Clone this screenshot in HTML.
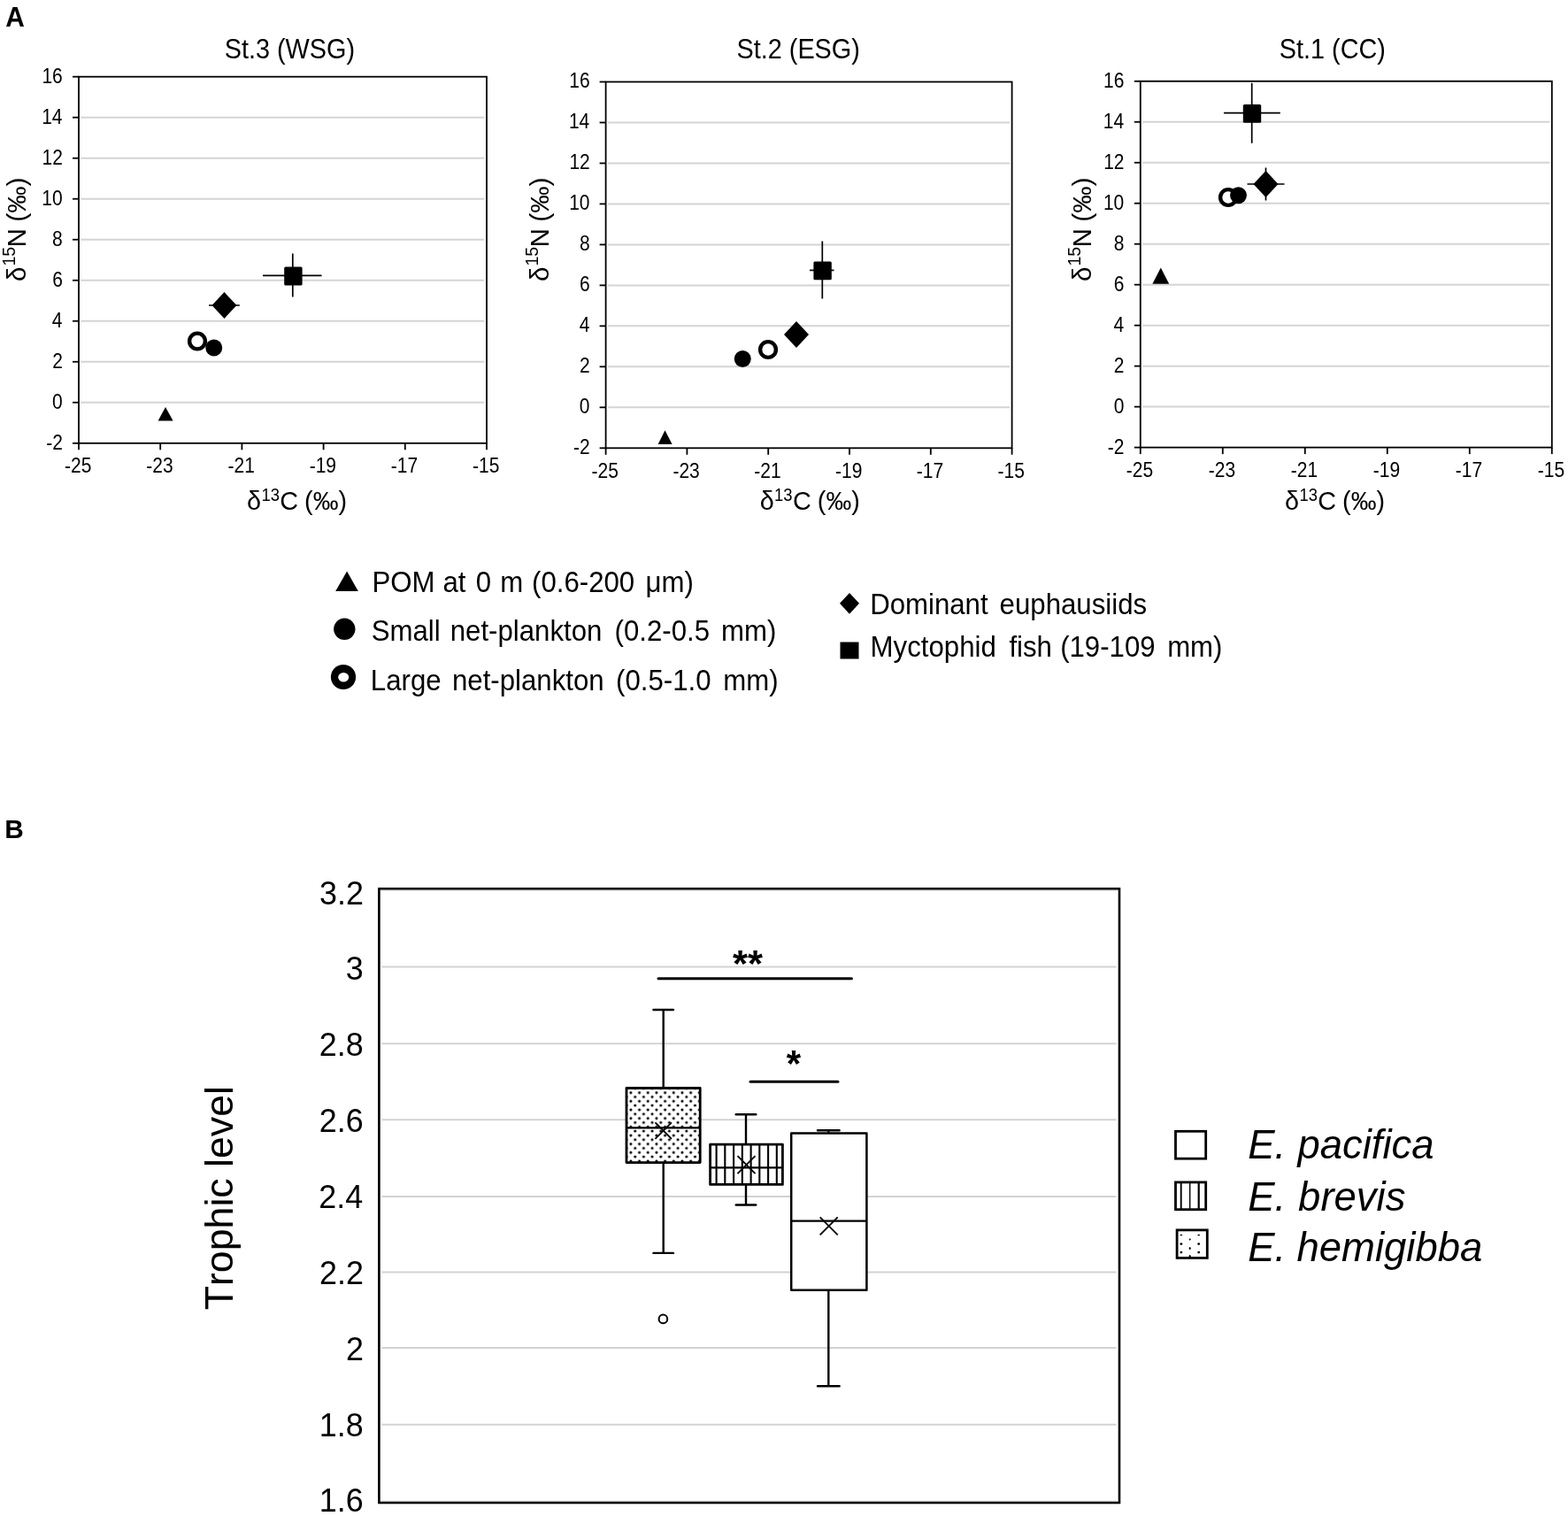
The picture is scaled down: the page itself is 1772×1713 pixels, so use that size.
<!DOCTYPE html>
<html lang="en"><head><meta charset="utf-8"><title>Figure</title>
<style>html,body{margin:0;padding:0;background:#fff}svg{display:block}text{font-family:"Liberation Sans",sans-serif;fill:#000;font-kerning:none}</style></head><body>
<svg width="1772" height="1713" viewBox="0 0 1772 1713">
<rect width="1772" height="1713" fill="#fff"/>
<defs><pattern id="dots" patternUnits="userSpaceOnUse" x="708.05" y="1229.75" width="9.68" height="9.66"><circle cx="4.84" cy="4.85" r="1.55" fill="#000"/><circle cx="0" cy="0" r="1.55"/><circle cx="9.68" cy="0" r="1.55"/><circle cx="0" cy="9.66" r="1.55"/><circle cx="9.68" cy="9.66" r="1.55"/></pattern></defs>
<text transform="translate(6.36,29.60) scale(0.96,1)" font-size="31.1" font-weight="bold">A</text>
<text transform="translate(5.21,946.60) scale(0.99,1)" font-size="30.1" font-weight="bold">B</text>
<line x1="91.50" y1="132.71" x2="547.50" y2="132.71" stroke="#d4d4d4" stroke-width="2.0"/>
<line x1="91.50" y1="178.72" x2="547.50" y2="178.72" stroke="#d4d4d4" stroke-width="2.0"/>
<line x1="91.50" y1="224.73" x2="547.50" y2="224.73" stroke="#d4d4d4" stroke-width="2.0"/>
<line x1="91.50" y1="270.74" x2="547.50" y2="270.74" stroke="#d4d4d4" stroke-width="2.0"/>
<line x1="91.50" y1="316.76" x2="547.50" y2="316.76" stroke="#d4d4d4" stroke-width="2.0"/>
<line x1="91.50" y1="362.77" x2="547.50" y2="362.77" stroke="#d4d4d4" stroke-width="2.0"/>
<line x1="91.50" y1="408.78" x2="547.50" y2="408.78" stroke="#d4d4d4" stroke-width="2.0"/>
<line x1="91.50" y1="454.79" x2="547.50" y2="454.79" stroke="#d4d4d4" stroke-width="2.0"/>
<rect x="89.00" y="86.70" width="461.00" height="414.10" fill="none" stroke="#000" stroke-width="1.8"/>
<line x1="82.00" y1="86.70" x2="89.00" y2="86.70" stroke="#000" stroke-width="1.8"/>
<text transform="translate(47.44,93.60) scale(0.865,1)" font-size="24.3">16</text>
<line x1="82.00" y1="132.71" x2="89.00" y2="132.71" stroke="#000" stroke-width="1.8"/>
<text transform="translate(47.14,139.61) scale(0.865,1)" font-size="24.3">14</text>
<line x1="82.00" y1="178.72" x2="89.00" y2="178.72" stroke="#000" stroke-width="1.8"/>
<text transform="translate(47.58,185.62) scale(0.865,1)" font-size="24.3">12</text>
<line x1="82.00" y1="224.73" x2="89.00" y2="224.73" stroke="#000" stroke-width="1.8"/>
<text transform="translate(47.34,231.63) scale(0.865,1)" font-size="24.3">10</text>
<line x1="82.00" y1="270.74" x2="89.00" y2="270.74" stroke="#000" stroke-width="1.8"/>
<text transform="translate(59.12,277.64) scale(0.865,1)" font-size="24.3">8</text>
<line x1="82.00" y1="316.76" x2="89.00" y2="316.76" stroke="#000" stroke-width="1.8"/>
<text transform="translate(59.13,323.66) scale(0.865,1)" font-size="24.3">6</text>
<line x1="82.00" y1="362.77" x2="89.00" y2="362.77" stroke="#000" stroke-width="1.8"/>
<text transform="translate(58.83,369.67) scale(0.865,1)" font-size="24.3">4</text>
<line x1="82.00" y1="408.78" x2="89.00" y2="408.78" stroke="#000" stroke-width="1.8"/>
<text transform="translate(59.27,415.68) scale(0.865,1)" font-size="24.3">2</text>
<line x1="82.00" y1="454.79" x2="89.00" y2="454.79" stroke="#000" stroke-width="1.8"/>
<text transform="translate(59.03,461.69) scale(0.865,1)" font-size="24.3">0</text>
<line x1="82.00" y1="500.80" x2="89.00" y2="500.80" stroke="#000" stroke-width="1.8"/>
<text transform="translate(52.27,507.70) scale(0.865,1)" font-size="24.3">-2</text>
<line x1="89.00" y1="500.80" x2="89.00" y2="508.30" stroke="#000" stroke-width="1.8"/>
<text transform="translate(72.98,534.40) scale(0.865,1)" font-size="24.3">-25</text>
<line x1="181.20" y1="500.80" x2="181.20" y2="508.30" stroke="#000" stroke-width="1.8"/>
<text transform="translate(165.20,534.40) scale(0.865,1)" font-size="24.3">-23</text>
<line x1="273.40" y1="500.80" x2="273.40" y2="508.30" stroke="#000" stroke-width="1.8"/>
<text transform="translate(257.46,534.40) scale(0.865,1)" font-size="24.3">-21</text>
<line x1="365.60" y1="500.80" x2="365.60" y2="508.30" stroke="#000" stroke-width="1.8"/>
<text transform="translate(349.64,534.40) scale(0.865,1)" font-size="24.3">-19</text>
<line x1="457.80" y1="500.80" x2="457.80" y2="508.30" stroke="#000" stroke-width="1.8"/>
<text transform="translate(441.87,534.40) scale(0.865,1)" font-size="24.3">-17</text>
<line x1="550.00" y1="500.80" x2="550.00" y2="508.30" stroke="#000" stroke-width="1.8"/>
<text transform="translate(533.98,534.40) scale(0.865,1)" font-size="24.3">-15</text>
<text transform="translate(253.78,65.70) scale(0.945,1)" font-size="30.5">St.3 (WSG)</text>
<text transform="translate(279.09,575.90) scale(0.96,1)" font-size="30.0">δ</text>
<text transform="translate(295.40,566.40) scale(0.945,1)" font-size="19.5">13</text>
<text transform="translate(316.24,575.90) scale(0.96,1)" font-size="30.0">C</text>
<text transform="translate(344.10,575.90) scale(0.96,1)" font-size="30.0">(‰)</text>
<text transform="translate(29.10,318.05) rotate(-90) scale(1.0,1)" font-size="29.7">δ</text>
<text transform="translate(16.60,300.49) rotate(-90) scale(1.0,1)" font-size="19.5">15</text>
<text transform="translate(29.10,279.44) rotate(-90) scale(1.0,1)" font-size="29.7">N</text>
<text transform="translate(29.10,250.79) rotate(-90) scale(1.02,1)" font-size="29.7">(‰)</text>
<line x1="297" y1="311.3" x2="363.5" y2="311.3" stroke="#000" stroke-width="1.7"/>
<line x1="330.8" y1="286.5" x2="330.8" y2="335.5" stroke="#000" stroke-width="1.7"/>
<rect x="321.20" y="301.60" width="20.4" height="20.8" rx="1.5" fill="#000"/>
<line x1="236" y1="345" x2="270.8" y2="345" stroke="#000" stroke-width="1.7"/>
<polygon points="239.5,345 253.5,330.1 267.5,345 253.5,359.9" fill="#000"/>
<circle cx="241.75" cy="393" r="9.45" fill="#000"/>
<circle cx="223" cy="385.5" r="8.899999999999999" fill="#fff" stroke="#000" stroke-width="4.4"/>
<polygon points="187,460 195.6,475.6 178.6,475.6" fill="#000"/>
<line x1="687.10" y1="138.48" x2="1141.10" y2="138.48" stroke="#d4d4d4" stroke-width="2.0"/>
<line x1="687.10" y1="184.46" x2="1141.10" y2="184.46" stroke="#d4d4d4" stroke-width="2.0"/>
<line x1="687.10" y1="230.43" x2="1141.10" y2="230.43" stroke="#d4d4d4" stroke-width="2.0"/>
<line x1="687.10" y1="276.41" x2="1141.10" y2="276.41" stroke="#d4d4d4" stroke-width="2.0"/>
<line x1="687.10" y1="322.39" x2="1141.10" y2="322.39" stroke="#d4d4d4" stroke-width="2.0"/>
<line x1="687.10" y1="368.37" x2="1141.10" y2="368.37" stroke="#d4d4d4" stroke-width="2.0"/>
<line x1="687.10" y1="414.34" x2="1141.10" y2="414.34" stroke="#d4d4d4" stroke-width="2.0"/>
<line x1="687.10" y1="460.32" x2="1141.10" y2="460.32" stroke="#d4d4d4" stroke-width="2.0"/>
<rect x="684.60" y="92.50" width="459.00" height="413.80" fill="none" stroke="#000" stroke-width="1.8"/>
<line x1="677.60" y1="92.50" x2="684.60" y2="92.50" stroke="#000" stroke-width="1.8"/>
<text transform="translate(643.24,99.40) scale(0.865,1)" font-size="24.3">16</text>
<line x1="677.60" y1="138.48" x2="684.60" y2="138.48" stroke="#000" stroke-width="1.8"/>
<text transform="translate(642.94,145.38) scale(0.865,1)" font-size="24.3">14</text>
<line x1="677.60" y1="184.46" x2="684.60" y2="184.46" stroke="#000" stroke-width="1.8"/>
<text transform="translate(643.38,191.36) scale(0.865,1)" font-size="24.3">12</text>
<line x1="677.60" y1="230.43" x2="684.60" y2="230.43" stroke="#000" stroke-width="1.8"/>
<text transform="translate(643.14,237.33) scale(0.865,1)" font-size="24.3">10</text>
<line x1="677.60" y1="276.41" x2="684.60" y2="276.41" stroke="#000" stroke-width="1.8"/>
<text transform="translate(654.92,283.31) scale(0.865,1)" font-size="24.3">8</text>
<line x1="677.60" y1="322.39" x2="684.60" y2="322.39" stroke="#000" stroke-width="1.8"/>
<text transform="translate(654.93,329.29) scale(0.865,1)" font-size="24.3">6</text>
<line x1="677.60" y1="368.37" x2="684.60" y2="368.37" stroke="#000" stroke-width="1.8"/>
<text transform="translate(654.63,375.27) scale(0.865,1)" font-size="24.3">4</text>
<line x1="677.60" y1="414.34" x2="684.60" y2="414.34" stroke="#000" stroke-width="1.8"/>
<text transform="translate(655.07,421.24) scale(0.865,1)" font-size="24.3">2</text>
<line x1="677.60" y1="460.32" x2="684.60" y2="460.32" stroke="#000" stroke-width="1.8"/>
<text transform="translate(654.83,467.22) scale(0.865,1)" font-size="24.3">0</text>
<line x1="677.60" y1="506.30" x2="684.60" y2="506.30" stroke="#000" stroke-width="1.8"/>
<text transform="translate(648.07,513.20) scale(0.865,1)" font-size="24.3">-2</text>
<line x1="684.60" y1="506.30" x2="684.60" y2="513.80" stroke="#000" stroke-width="1.8"/>
<text transform="translate(668.58,539.90) scale(0.865,1)" font-size="24.3">-25</text>
<line x1="776.40" y1="506.30" x2="776.40" y2="513.80" stroke="#000" stroke-width="1.8"/>
<text transform="translate(760.40,539.90) scale(0.865,1)" font-size="24.3">-23</text>
<line x1="868.20" y1="506.30" x2="868.20" y2="513.80" stroke="#000" stroke-width="1.8"/>
<text transform="translate(852.26,539.90) scale(0.865,1)" font-size="24.3">-21</text>
<line x1="960.00" y1="506.30" x2="960.00" y2="513.80" stroke="#000" stroke-width="1.8"/>
<text transform="translate(944.04,539.90) scale(0.865,1)" font-size="24.3">-19</text>
<line x1="1051.80" y1="506.30" x2="1051.80" y2="513.80" stroke="#000" stroke-width="1.8"/>
<text transform="translate(1035.87,539.90) scale(0.865,1)" font-size="24.3">-17</text>
<line x1="1143.60" y1="506.30" x2="1143.60" y2="513.80" stroke="#000" stroke-width="1.8"/>
<text transform="translate(1127.58,539.90) scale(0.865,1)" font-size="24.3">-15</text>
<text transform="translate(832.57,65.70) scale(0.945,1)" font-size="30.5">St.2 (ESG)</text>
<text transform="translate(858.79,575.90) scale(0.96,1)" font-size="30.0">δ</text>
<text transform="translate(875.10,566.40) scale(0.945,1)" font-size="19.5">13</text>
<text transform="translate(895.94,575.90) scale(0.96,1)" font-size="30.0">C</text>
<text transform="translate(923.80,575.90) scale(0.96,1)" font-size="30.0">(‰)</text>
<text transform="translate(620.00,318.05) rotate(-90) scale(1.0,1)" font-size="29.7">δ</text>
<text transform="translate(607.50,300.49) rotate(-90) scale(1.0,1)" font-size="19.5">15</text>
<text transform="translate(620.00,279.44) rotate(-90) scale(1.0,1)" font-size="29.7">N</text>
<text transform="translate(620.00,250.79) rotate(-90) scale(1.02,1)" font-size="29.7">(‰)</text>
<line x1="915" y1="305.4" x2="942.5" y2="305.4" stroke="#000" stroke-width="1.7"/>
<line x1="929.3" y1="272.5" x2="929.3" y2="337.5" stroke="#000" stroke-width="1.7"/>
<rect x="919.40" y="295.40" width="20.4" height="20.8" rx="1.5" fill="#000"/>
<polygon points="886.0,378 900,363.1 914.0,378 900,392.9" fill="#000"/>
<circle cx="839.25" cy="405.5" r="9.45" fill="#000"/>
<circle cx="868" cy="395" r="8.899999999999999" fill="#fff" stroke="#000" stroke-width="4.4"/>
<polygon points="751.5,486.3 759.6,502 743.6,502" fill="#000"/>
<line x1="1291.30" y1="137.78" x2="1751.30" y2="137.78" stroke="#d4d4d4" stroke-width="2.0"/>
<line x1="1291.30" y1="183.76" x2="1751.30" y2="183.76" stroke="#d4d4d4" stroke-width="2.0"/>
<line x1="1291.30" y1="229.73" x2="1751.30" y2="229.73" stroke="#d4d4d4" stroke-width="2.0"/>
<line x1="1291.30" y1="275.71" x2="1751.30" y2="275.71" stroke="#d4d4d4" stroke-width="2.0"/>
<line x1="1291.30" y1="321.69" x2="1751.30" y2="321.69" stroke="#d4d4d4" stroke-width="2.0"/>
<line x1="1291.30" y1="367.67" x2="1751.30" y2="367.67" stroke="#d4d4d4" stroke-width="2.0"/>
<line x1="1291.30" y1="413.64" x2="1751.30" y2="413.64" stroke="#d4d4d4" stroke-width="2.0"/>
<line x1="1291.30" y1="459.62" x2="1751.30" y2="459.62" stroke="#d4d4d4" stroke-width="2.0"/>
<rect x="1288.80" y="91.80" width="465.00" height="413.80" fill="none" stroke="#000" stroke-width="1.8"/>
<line x1="1281.80" y1="91.80" x2="1288.80" y2="91.80" stroke="#000" stroke-width="1.8"/>
<text transform="translate(1247.04,98.70) scale(0.865,1)" font-size="24.3">16</text>
<line x1="1281.80" y1="137.78" x2="1288.80" y2="137.78" stroke="#000" stroke-width="1.8"/>
<text transform="translate(1246.74,144.68) scale(0.865,1)" font-size="24.3">14</text>
<line x1="1281.80" y1="183.76" x2="1288.80" y2="183.76" stroke="#000" stroke-width="1.8"/>
<text transform="translate(1247.18,190.66) scale(0.865,1)" font-size="24.3">12</text>
<line x1="1281.80" y1="229.73" x2="1288.80" y2="229.73" stroke="#000" stroke-width="1.8"/>
<text transform="translate(1246.94,236.63) scale(0.865,1)" font-size="24.3">10</text>
<line x1="1281.80" y1="275.71" x2="1288.80" y2="275.71" stroke="#000" stroke-width="1.8"/>
<text transform="translate(1258.72,282.61) scale(0.865,1)" font-size="24.3">8</text>
<line x1="1281.80" y1="321.69" x2="1288.80" y2="321.69" stroke="#000" stroke-width="1.8"/>
<text transform="translate(1258.73,328.59) scale(0.865,1)" font-size="24.3">6</text>
<line x1="1281.80" y1="367.67" x2="1288.80" y2="367.67" stroke="#000" stroke-width="1.8"/>
<text transform="translate(1258.43,374.57) scale(0.865,1)" font-size="24.3">4</text>
<line x1="1281.80" y1="413.64" x2="1288.80" y2="413.64" stroke="#000" stroke-width="1.8"/>
<text transform="translate(1258.87,420.54) scale(0.865,1)" font-size="24.3">2</text>
<line x1="1281.80" y1="459.62" x2="1288.80" y2="459.62" stroke="#000" stroke-width="1.8"/>
<text transform="translate(1258.63,466.52) scale(0.865,1)" font-size="24.3">0</text>
<line x1="1281.80" y1="505.60" x2="1288.80" y2="505.60" stroke="#000" stroke-width="1.8"/>
<text transform="translate(1251.87,512.50) scale(0.865,1)" font-size="24.3">-2</text>
<line x1="1288.80" y1="505.60" x2="1288.80" y2="513.10" stroke="#000" stroke-width="1.8"/>
<text transform="translate(1272.78,539.20) scale(0.865,1)" font-size="24.3">-25</text>
<line x1="1381.80" y1="505.60" x2="1381.80" y2="513.10" stroke="#000" stroke-width="1.8"/>
<text transform="translate(1365.80,539.20) scale(0.865,1)" font-size="24.3">-23</text>
<line x1="1474.80" y1="505.60" x2="1474.80" y2="513.10" stroke="#000" stroke-width="1.8"/>
<text transform="translate(1458.86,539.20) scale(0.865,1)" font-size="24.3">-21</text>
<line x1="1567.80" y1="505.60" x2="1567.80" y2="513.10" stroke="#000" stroke-width="1.8"/>
<text transform="translate(1551.84,539.20) scale(0.865,1)" font-size="24.3">-19</text>
<line x1="1660.80" y1="505.60" x2="1660.80" y2="513.10" stroke="#000" stroke-width="1.8"/>
<text transform="translate(1644.87,539.20) scale(0.865,1)" font-size="24.3">-17</text>
<line x1="1753.80" y1="505.60" x2="1753.80" y2="513.10" stroke="#000" stroke-width="1.8"/>
<text transform="translate(1737.78,539.20) scale(0.865,1)" font-size="24.3">-15</text>
<text transform="translate(1445.79,65.70) scale(0.945,1)" font-size="30.5">St.1 (CC)</text>
<text transform="translate(1452.09,575.90) scale(0.96,1)" font-size="30.0">δ</text>
<text transform="translate(1468.40,566.40) scale(0.945,1)" font-size="19.5">13</text>
<text transform="translate(1489.24,575.90) scale(0.96,1)" font-size="30.0">C</text>
<text transform="translate(1517.10,575.90) scale(0.96,1)" font-size="30.0">(‰)</text>
<text transform="translate(1233.00,318.05) rotate(-90) scale(1.0,1)" font-size="29.7">δ</text>
<text transform="translate(1220.50,300.49) rotate(-90) scale(1.0,1)" font-size="19.5">15</text>
<text transform="translate(1233.00,279.44) rotate(-90) scale(1.0,1)" font-size="29.7">N</text>
<text transform="translate(1233.00,250.79) rotate(-90) scale(1.02,1)" font-size="29.7">(‰)</text>
<line x1="1383" y1="127.6" x2="1446.8" y2="127.6" stroke="#000" stroke-width="1.7"/>
<line x1="1414.7" y1="93.8" x2="1414.7" y2="161.8" stroke="#000" stroke-width="1.7"/>
<rect x="1404.80" y="117.90" width="20.4" height="20.8" rx="1.5" fill="#000"/>
<line x1="1409.5" y1="208" x2="1451.5" y2="208" stroke="#000" stroke-width="1.7"/>
<line x1="1430.5" y1="189.5" x2="1430.5" y2="226.5" stroke="#000" stroke-width="1.7"/>
<polygon points="1416.5,208 1430.5,193.1 1444.5,208 1430.5,222.9" fill="#000"/>
<circle cx="1388" cy="223" r="8.899999999999999" fill="#fff" stroke="#000" stroke-width="4.4"/>
<circle cx="1399.5" cy="220.8" r="9.45" fill="#000"/>
<polygon points="1311.8,302.5 1321.2,320.8 1302.4,320.8" fill="#000"/>
<polygon points="392.1,645.6 404.8,668 379.2,668" fill="#000"/>
<circle cx="389.3" cy="710.8" r="12.2" fill="#000"/>
<circle cx="388" cy="765" r="14.1" fill="#000"/>
<ellipse cx="388.2" cy="765.3" rx="6" ry="5.3" fill="#fff"/>
<text transform="translate(420.50,669.10) scale(0.929,1)" font-size="33.6">POM</text>
<text transform="translate(500.44,669.10) scale(0.929,1)" font-size="33.6">at</text>
<text transform="translate(537.87,669.10) scale(0.929,1)" font-size="33.6">0</text>
<text transform="translate(565.19,669.10) scale(0.929,1)" font-size="33.6">m</text>
<text transform="translate(601.01,669.10) scale(0.929,1)" font-size="33.6">(0.6-200</text>
<text transform="translate(729.43,669.10) scale(0.929,1)" font-size="33.6">μm)</text>
<text transform="translate(419.66,723.60) scale(0.929,1)" font-size="33.6">Small</text>
<text transform="translate(508.68,723.60) scale(0.929,1)" font-size="33.6">net-plankton</text>
<text transform="translate(694.50,723.60) scale(0.929,1)" font-size="33.6">(0.2-0.5</text>
<text transform="translate(815.08,723.60) scale(0.929,1)" font-size="33.6">mm)</text>
<text transform="translate(418.80,779.60) scale(0.929,1)" font-size="33.6">Large</text>
<text transform="translate(510.98,779.60) scale(0.929,1)" font-size="33.6">net-plankton</text>
<text transform="translate(696.05,779.60) scale(0.929,1)" font-size="33.6">(0.5-1.0</text>
<text transform="translate(817.23,779.60) scale(0.929,1)" font-size="33.6">mm)</text>
<polygon points="949,681.8 960,669.9 971,681.8 960,693.7" fill="#000"/>
<rect x="949.5" y="725.5" width="21" height="19" fill="#000"/>
<text transform="translate(983.14,693.60) scale(0.929,1)" font-size="33.6">Dominant</text>
<text transform="translate(1129.60,693.60) scale(0.929,1)" font-size="33.6">euphausiids</text>
<text transform="translate(983.59,742.10) scale(0.929,1)" font-size="33.6">Myctophid</text>
<text transform="translate(1140.41,742.10) scale(0.929,1)" font-size="33.6">fish</text>
<text transform="translate(1198.13,742.10) scale(0.929,1)" font-size="33.6">(19-109</text>
<text transform="translate(1319.13,742.10) scale(0.929,1)" font-size="33.6">mm)</text>
<line x1="431.4" y1="1092.5" x2="1261.5" y2="1092.5" stroke="#d3d3d3" stroke-width="1.9"/>
<line x1="431.4" y1="1179.2" x2="1261.5" y2="1179.2" stroke="#d3d3d3" stroke-width="1.9"/>
<line x1="431.4" y1="1265.3" x2="1261.5" y2="1265.3" stroke="#d3d3d3" stroke-width="1.9"/>
<line x1="431.4" y1="1352.0" x2="1261.5" y2="1352.0" stroke="#d3d3d3" stroke-width="1.9"/>
<line x1="431.4" y1="1437.5" x2="1261.5" y2="1437.5" stroke="#d3d3d3" stroke-width="1.9"/>
<line x1="431.4" y1="1523.0" x2="1261.5" y2="1523.0" stroke="#d3d3d3" stroke-width="1.9"/>
<line x1="431.4" y1="1609.8" x2="1261.5" y2="1609.8" stroke="#d3d3d3" stroke-width="1.9"/>
<line x1="431.4" y1="1006.3" x2="1261.5" y2="1006.3" stroke="#e8e8e8" stroke-width="1.2"/>
<line x1="431.4" y1="1696" x2="1261.5" y2="1696" stroke="#e0e0e0" stroke-width="1.2"/>
<rect x="428.4" y="1004.2" width="836.6" height="693.8" fill="none" stroke="#000" stroke-width="2.6"/>
<text transform="translate(361.09,1021.80) scale(0.973,1)" font-size="36.9">3.2</text>
<text transform="translate(390.81,1107.20) scale(0.973,1)" font-size="36.9">3</text>
<text transform="translate(360.85,1193.10) scale(0.973,1)" font-size="36.9">2.8</text>
<text transform="translate(360.87,1279.00) scale(0.973,1)" font-size="36.9">2.6</text>
<text transform="translate(360.34,1364.50) scale(0.973,1)" font-size="36.9">2.4</text>
<text transform="translate(361.09,1450.70) scale(0.973,1)" font-size="36.9">2.2</text>
<text transform="translate(391.04,1537.00) scale(0.973,1)" font-size="36.9">2</text>
<text transform="translate(360.85,1623.30) scale(0.973,1)" font-size="36.9">1.8</text>
<text transform="translate(360.87,1708.40) scale(0.973,1)" font-size="36.9">1.6</text>
<text transform="translate(263.20,1480.30) rotate(-90) scale(0.993,1)" font-size="45.0">Trophic level</text>
<line x1="744" y1="1105.7" x2="962.4" y2="1105.7" stroke="#000" stroke-width="3" stroke-linecap="round"/>
<line x1="848" y1="1222.2" x2="946.9" y2="1222.2" stroke="#000" stroke-width="3" stroke-linecap="round"/>
<text transform="translate(827.96,1102.60) scale(1.04,1)" font-size="42" font-weight="bold">**</text>
<text transform="translate(888.79,1215.80) scale(1.0,1)" font-size="42" font-weight="bold">*</text>
<line x1="749.7" y1="1141" x2="749.7" y2="1229.5" stroke="#000" stroke-width="2.4"/>
<line x1="749.7" y1="1313.6" x2="749.7" y2="1415.9" stroke="#000" stroke-width="2.4"/>
<line x1="738.45" y1="1141" x2="760.95" y2="1141" stroke="#000" stroke-width="2.4" stroke-linecap="round"/>
<line x1="738.45" y1="1415.9" x2="760.95" y2="1415.9" stroke="#000" stroke-width="2.4" stroke-linecap="round"/>
<rect x="708" y="1229.5" width="83.20000000000005" height="84.09999999999991" fill="#fff"/>
<rect x="708" y="1229.5" width="83.20000000000005" height="84.09999999999991" fill="url(#dots)"/>
<rect x="708" y="1229.5" width="83.20000000000005" height="84.09999999999991" fill="none" stroke="#000" stroke-width="2.8" stroke-linejoin="round"/>
<line x1="708" y1="1274.3" x2="791.2" y2="1274.3" stroke="#000" stroke-width="2.2"/>
<path d="M740.45,1268.35L758.95,1286.85M740.45,1286.85L758.95,1268.35" stroke="#000" stroke-width="1.9" fill="none"/>
<line x1="843" y1="1259.2" x2="843" y2="1293.2" stroke="#000" stroke-width="2.4"/>
<line x1="843" y1="1338.4" x2="843" y2="1361.5" stroke="#000" stroke-width="2.4"/>
<line x1="831.75" y1="1259.2" x2="854.25" y2="1259.2" stroke="#000" stroke-width="2.4" stroke-linecap="round"/>
<line x1="831.75" y1="1361.5" x2="854.25" y2="1361.5" stroke="#000" stroke-width="2.4" stroke-linecap="round"/>
<rect x="802.6" y="1293.2" width="81.79999999999995" height="45.200000000000045" fill="#fff"/>
<line x1="809.6" y1="1293.2" x2="809.6" y2="1338.4" stroke="#000" stroke-width="2.1"/>
<line x1="819.3" y1="1293.2" x2="819.3" y2="1338.4" stroke="#000" stroke-width="2.1"/>
<line x1="829.1" y1="1293.2" x2="829.1" y2="1338.4" stroke="#000" stroke-width="2.1"/>
<line x1="838.8" y1="1293.2" x2="838.8" y2="1338.4" stroke="#000" stroke-width="2.1"/>
<line x1="848.6" y1="1293.2" x2="848.6" y2="1338.4" stroke="#000" stroke-width="2.1"/>
<line x1="858.3" y1="1293.2" x2="858.3" y2="1338.4" stroke="#000" stroke-width="2.1"/>
<line x1="868.1" y1="1293.2" x2="868.1" y2="1338.4" stroke="#000" stroke-width="2.1"/>
<line x1="877.8" y1="1293.2" x2="877.8" y2="1338.4" stroke="#000" stroke-width="2.1"/>
<rect x="802.6" y="1293.2" width="81.79999999999995" height="45.200000000000045" fill="none" stroke="#000" stroke-width="2.8" stroke-linejoin="round"/>
<line x1="802.6" y1="1319.3" x2="884.4" y2="1319.3" stroke="#000" stroke-width="2.2"/>
<path d="M833.5,1306.1L853.5,1326.1M833.5,1326.1L853.5,1306.1" stroke="#000" stroke-width="1.9" fill="none"/>
<line x1="936.3" y1="1277.2" x2="936.3" y2="1280.4" stroke="#000" stroke-width="2.4"/>
<line x1="936.3" y1="1457.8" x2="936.3" y2="1566.2" stroke="#000" stroke-width="2.4"/>
<line x1="924.05" y1="1277.2" x2="948.55" y2="1277.2" stroke="#000" stroke-width="2.4" stroke-linecap="round"/>
<line x1="924.05" y1="1566.2" x2="948.55" y2="1566.2" stroke="#000" stroke-width="2.4" stroke-linecap="round"/>
<rect x="894.2" y="1280.4" width="85.19999999999993" height="177.39999999999986" fill="#fff"/>
<rect x="894.2" y="1280.4" width="85.19999999999993" height="177.39999999999986" fill="none" stroke="#000" stroke-width="2.5" stroke-linejoin="round"/>
<line x1="894.2" y1="1379.7" x2="979.4" y2="1379.7" stroke="#000" stroke-width="2.2"/>
<path d="M926.7,1375.4L946.7,1395.4M926.7,1395.4L946.7,1375.4" stroke="#000" stroke-width="1.9" fill="none"/>
<circle cx="749.4" cy="1490.4" r="4.8" fill="#fff" stroke="#000" stroke-width="2"/>
<rect x="1328.5" y="1278.3" width="34.2" height="30.9" fill="#fff" stroke="#000" stroke-width="2.8"/>
<rect x="1328.5" y="1335.9" width="34.2" height="30.8" fill="#fff" stroke="#000" stroke-width="2.8"/>
<line x1="1334.7" y1="1335.9" x2="1334.7" y2="1366.7" stroke="#000" stroke-width="1.9"/>
<line x1="1344.7" y1="1335.9" x2="1344.7" y2="1366.7" stroke="#000" stroke-width="1.4"/>
<line x1="1354.7" y1="1335.9" x2="1354.7" y2="1366.7" stroke="#000" stroke-width="2.2"/>
<rect x="1330.1" y="1389.9" width="34.2" height="31.5" fill="#fff" stroke="#000" stroke-width="2.8"/>
<ellipse cx="1334.9" cy="1395.6" rx="1.4" ry="0.8" fill="#000"/>
<ellipse cx="1334.9" cy="1405.6" rx="1.4" ry="1.3" fill="#000"/>
<ellipse cx="1334.9" cy="1415.1" rx="1.4" ry="1.3" fill="#000"/>
<ellipse cx="1354.7" cy="1395.6" rx="1.4" ry="0.8" fill="#000"/>
<ellipse cx="1354.7" cy="1405.6" rx="1.4" ry="1.3" fill="#000"/>
<ellipse cx="1354.7" cy="1415.1" rx="1.4" ry="1.3" fill="#000"/>
<ellipse cx="1344.7" cy="1400.4" rx="1.0" ry="1.0" fill="#000"/>
<ellipse cx="1344.7" cy="1410.4" rx="1.0" ry="1.5" fill="#000"/>
<ellipse cx="1344.7" cy="1419.2" rx="1.0" ry="1.2" fill="#000"/>
<text transform="translate(1410.19,1309.10) scale(0.985,1)" font-size="46.2" font-style="italic">E.</text>
<text transform="translate(1466.40,1309.10) scale(0.985,1)" font-size="46.2" font-style="italic">pacifica</text>
<text transform="translate(1410.19,1367.80) scale(0.985,1)" font-size="46.2" font-style="italic">E.</text>
<text transform="translate(1467.10,1367.80) scale(0.985,1)" font-size="46.2" font-style="italic">brevis</text>
<text transform="translate(1410.19,1425.40) scale(0.985,1)" font-size="46.2" font-style="italic">E.</text>
<text transform="translate(1465.41,1425.40) scale(0.985,1)" font-size="46.2" font-style="italic">hemigibba</text>
</svg></body></html>
